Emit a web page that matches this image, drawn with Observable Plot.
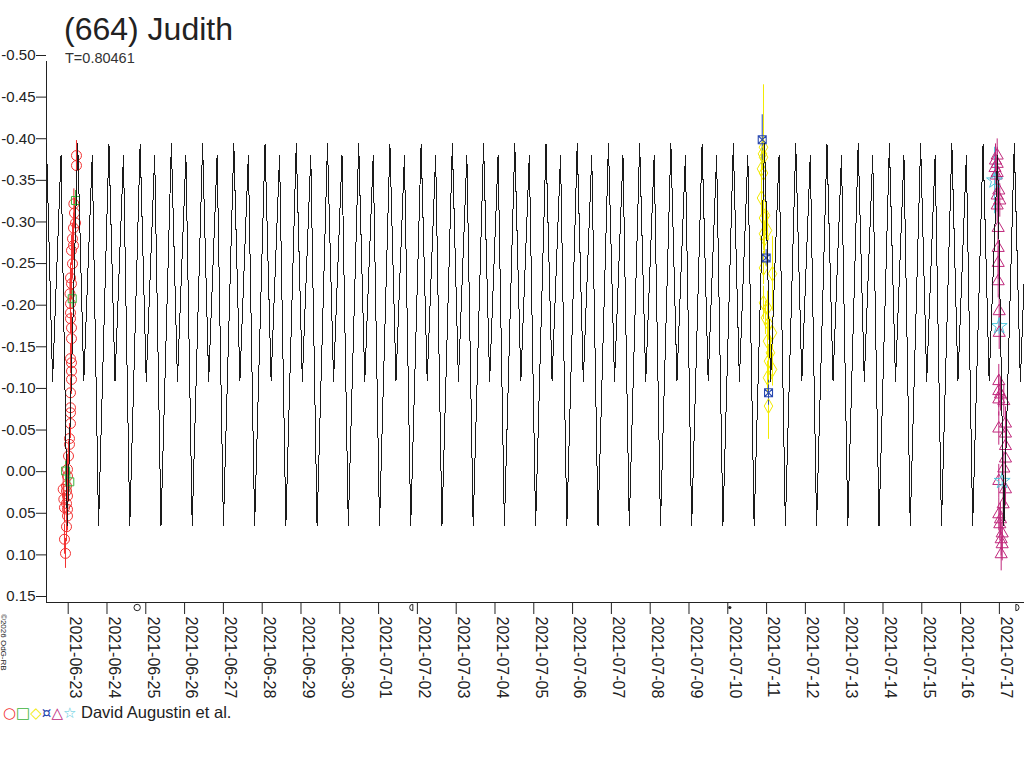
<!DOCTYPE html>
<html>
<head>
<meta charset="utf-8">
<script src="https://cdn.jsdelivr.net/npm/d3@7"></script>
<script src="https://cdn.jsdelivr.net/npm/@observablehq/plot@0.6"></script>
<style>
  body { margin: 0; background: #fff; font-family: "Liberation Sans", Arial, sans-serif; color: #222; }
  #wrap { position: relative; width: 1024px; height: 768px; }
  #title { position: absolute; left: 64px; top: 11px; font-size: 32px; color: #222; }
  #sub { position: absolute; left: 65px; top: 50px; font-size: 14.5px; color: #333; }
  #copy { position: absolute; left: 8px; top: 614px; font-size: 8px; transform-origin: 0 0; transform: rotate(90deg); white-space: nowrap; }
  #legend { position: absolute; left: 3px; top: 703px; font-size: 16.5px; white-space: nowrap; }
  #legend span.s { font-family: "DejaVu Sans"; font-size: 15px; margin-right: 0px; }
</style>
</head>
<body>
<div id="wrap">
  <div id="chart-display"></div>
  <div id="title">(664) Judith</div>
  <div id="sub">T=0.80461</div>
  <div id="copy">©2026 OdG-RB</div>
  <div id="legend"></div>
</div>
<script>
// rotation period (days) and the folded model shape
const period = 0.80461;
const modelPhase = [0, 0.195, 0.465, 0.667, 1];
const modelMag = [-0.401, -0.116, -0.387, 0.058, -0.401];

// time window of the plot
const tStart = new Date("2021-06-22T10:35:00Z");
const tEnd = new Date("2021-07-17T15:32:00Z");

const yTicks = [-0.50, -0.45, -0.40, -0.35, -0.30, -0.25, -0.20, -0.15, -0.10, -0.05, 0.00, 0.05, 0.10, 0.15];

// night of 2021-06-23 (hours from 0h UT)
const redHours = [-1.67, -2.3, -1.05, -0.43, -0.43, -2.3, -1.05, -2.7, -0.43, -1.05, -3.1, -1.05, -0.43, -0.43, 0.19, 0.80, 0.80, 1.42, 1.42, 1.42, 1.42, 2.04, 2.04, 2.04, 1.42, 2.04, 2.04, 1.42, 1.42, 1.42, 1.1, 2.04, 1.42, 2.66, 2.04, 3.28, 2.66, 3.28, 4.52, 3.90, 3.5, 5.13, 5.13];
const redMag = [0.091, 0.074, 0.059, 0.046, 0.038, 0.036, 0.031, 0.026, 0.022, 0.016, 0.014, 0.010, -0.002, -0.010, -0.026, -0.040, -0.047, -0.065, -0.078, -0.084, -0.102, -0.118, -0.128, -0.138, -0.143, -0.167, -0.180, -0.191, -0.198, -0.209, -0.221, -0.233, -0.240, -0.257, -0.273, -0.279, -0.287, -0.300, -0.306, -0.318, -0.329, -0.375, -0.387];
const greenHours = [4.5, 2.5, -1.6, 1.0];
const greenMag = [-0.333, -0.215, -0.008, 0.005];

// night of 2021-07-11
const yellowHours = [-1.92, -2.54, -1.92, -3.15, -1.92, -3.15, -0.68, -1.92, 0.56, -1.92, -1.30, -1.92, 3.65, -1.92, 0.56, -0.68, 1.18, 3.65, 0.56, 2.41, 1.18, 3.65, 0.56, 1.18];
const yellowMag = [-0.397, -0.389, -0.385, -0.371, -0.366, -0.336, -0.315, -0.312, -0.297, -0.293, -0.287, -0.252, -0.245, -0.210, -0.204, -0.192, -0.185, -0.174, -0.164, -0.150, -0.140, -0.130, -0.120, -0.086];
const yellowErr = [0.075, 0.02, 0.02, 0.02, 0.02, 0.02, 0.02, 0.02, 0.02, 0.02, 0.02, 0.02, 0.045, 0.02, 0.02, 0.02, 0.02, 0.02, 0.02, 0.02, 0.02, 0.02, 0.02, 0.04];
const blueHours = [-2.7, -0.25, 1.2];
const blueMag = [-0.406, -0.264, -0.102];
const blueErr = [0.03, 0.01, 0.015];

// night of 2021-07-17
const magentaHours = [-1.36, -2.41, -1.36, -2.7, -1.36, -1.98, -0.37, -1.36, 0.25, -1.36, -0.74, -0.74, -0.74, -0.74, -0.12, -0.12, -0.37, -0.37, 0.68, -0.37, 2.72, 3.77, -0.37, 3.77, 3.77, 3.77, 2.72, -0.37, 3.77, 2.35, -0.37, 0.68, 0.25, 1.73, 1.11, 1.73, 1.11];
const magentaMag = [-0.387, -0.381, -0.377, -0.372, -0.366, -0.363, -0.345, -0.339, -0.333, -0.327, -0.300, -0.276, -0.258, -0.236, -0.200, -0.174, -0.116, -0.104, -0.100, -0.094, -0.092, -0.065, -0.059, -0.053, -0.038, -0.023, -0.011, 0.004, 0.014, 0.032, 0.044, 0.050, 0.056, 0.067, 0.074, 0.080, 0.092];
const cyanHours = [-3.0, -0.12, 1.73];
const cyanMag = [-0.357, -0.182, 0.004];
const cyanErr = [0.04, 0.01, 0.01];

// moon phases
const moonDates = ["2021-06-24T18:40Z", "2021-07-01T21:11Z", "2021-07-10T01:16Z", "2021-07-17T10:11Z"];
const moonKind = ["full", "last", "new", "first"];

const hour = 36e5;
function series(base, hours, mags, err) {
  const b = new Date(base + "T00:00:00Z").getTime();
  return hours.map((h, i) => ({
    t: new Date(b + h * hour),
    m: mags[i],
    e: Array.isArray(err) ? err[i] : err
  }));
}

const red = series("2021-06-23", redHours, redMag, 0.018);
const green = series("2021-06-23", greenHours, greenMag, 0.012);
const yellow = series("2021-07-11", yellowHours, yellowMag, yellowErr);
const blue = series("2021-07-11", blueHours, blueMag, blueErr);
const magenta = series("2021-07-17", magentaHours, magentaMag, 0.02);
const cyan = series("2021-07-17", cyanHours, cyanMag, cyanErr);

// repeat the folded shape over the whole window
const model = [];
const pms = period * 864e5;
for (let k = 0; +tStart + k * pms < +tEnd + pms; k++) {
  for (let i = 0; i < modelPhase.length - 1; i++) {
    model.push({t: new Date(+tStart + (k + modelPhase[i]) * pms), m: modelMag[i]});
  }
}

const moons = moonDates.map((d, i) => ({t: new Date(d), kind: moonKind[i]}));
const xTicks = d3.utcDay.range(new Date("2021-06-23T00:00Z"), new Date("2021-07-18T00:00Z"));

// small custom symbols
const boxX = {draw(ctx, size) {
  const s = Math.sqrt(size) / 2;
  ctx.moveTo(-s, -s); ctx.lineTo(s, -s); ctx.lineTo(s, s); ctx.lineTo(-s, s); ctx.closePath();
  ctx.moveTo(-s, -s); ctx.lineTo(s, s); ctx.moveTo(s, -s); ctx.lineTo(-s, s);
}};
const halfLeft = {draw(ctx, size) {
  const r = Math.sqrt(size / Math.PI);
  ctx.moveTo(0, -r); ctx.arc(0, 0, r, -Math.PI / 2, Math.PI / 2, true); ctx.closePath();
}};
const halfRight = {draw(ctx, size) {
  const r = Math.sqrt(size / Math.PI);
  ctx.moveTo(0, -r); ctx.arc(0, 0, r, -Math.PI / 2, Math.PI / 2, false); ctx.closePath();
}};

function errBars(data, color) {
  return Plot.ruleX(data, {x: "t", y1: d => d.m - d.e, y2: d => d.m + d.e, stroke: color, strokeWidth: 1});
}

const cRed = "#f23030", cGreen = "#3cb43c", cYellow = "#f2ea00", cBlue = "#2848b0", cMag = "#c0287c", cCyan = "#50c8dc";

const plot = Plot.plot({
  width: 1024,
  height: 700,
  marginTop: 61,
  marginBottom: 98,
  marginLeft: 46,
  marginRight: 0,
  style: {fontFamily: "'Liberation Sans', Arial, sans-serif", color: "#222", background: "#fff"},
  x: {type: "utc", domain: [tStart, tEnd], label: null},
  y: {domain: [0.15, -0.50], label: null},
  marks: [
    Plot.axisY({ticks: yTicks, tickFormat: d => d.toFixed(2), tickSize: 10, tickPadding: 1, fontSize: 15, dy: -6, stroke: "#222", label: null}),
    // tick marks, then the rotated date labels just right of them
    Plot.axisX({ticks: xTicks, tickFormat: () => "", tickSize: 12, stroke: "#222", label: null}),
    Plot.axisX({ticks: xTicks, tickFormat: d3.utcFormat("%Y-%m-%d"), tickSize: 0, tickPadding: 14,
      tickRotate: 90, fontSize: 16, dx: 7, label: null}),
    Plot.ruleX([tStart], {y1: -0.50, y2: 0.15, stroke: "#222"}),
    Plot.ruleY([0.15], {stroke: "#222"}),
    Plot.dot(moons.filter(d => d.kind !== "new"), {x: "t", y: 0.15, dy: 5, r: 3.2, stroke: "#222", strokeWidth: 1,
      symbol: d => d.kind === "last" ? halfLeft : d.kind === "first" ? halfRight : "circle"}),
    Plot.dot(moons.filter(d => d.kind === "new"), {x: "t", y: 0.15, dy: 5, r: 1.6, fill: "#222"}),
    errBars(red, cRed),
    errBars(green, cGreen),
    errBars(yellow, cYellow),
    errBars(blue, cBlue),
    errBars(magenta, cMag),
    errBars(cyan, cCyan),
    Plot.dot(red, {x: "t", y: "m", r: 5, stroke: cRed, strokeWidth: 1}),
    Plot.dot(green, {x: "t", y: "m", r: 4.5, symbol: "square", stroke: cGreen, strokeWidth: 1}),
    Plot.dot(yellow, {x: "t", y: "m", r: 4.5, symbol: "diamond", stroke: cYellow, strokeWidth: 1}),
    Plot.dot(blue, {x: "t", y: "m", r: 4.5, symbol: boxX, stroke: cBlue, strokeWidth: 1.1}),
    Plot.dot(magenta, {x: "t", y: "m", r: 4.5, symbol: "triangle", stroke: cMag, strokeWidth: 1}),
    Plot.dot(cyan, {x: "t", y: "m", r: 5, symbol: "star", stroke: cCyan, strokeWidth: 1}),
    Plot.line(model, {x: "t", y: "m", stroke: "#1a1a1a", strokeWidth: 1, shapeRendering: "crispEdges", clip: true})
  ]
});

document.querySelector("#chart-display").append(plot);

const legend = document.querySelector("#legend");
legend.innerHTML =
  `<span class="s" style="color:${cRed}">○</span><span class="s" style="color:${cGreen}">□</span>` +
  `<span class="s" style="color:${cYellow}">◇</span><span class="s" style="color:${cBlue}">¤</span>` +
  `<span class="s" style="color:${cMag}">△</span><span class="s" style="color:${cCyan}">☆</span> David Augustin et al.`;
</script>
</body>
</html>
